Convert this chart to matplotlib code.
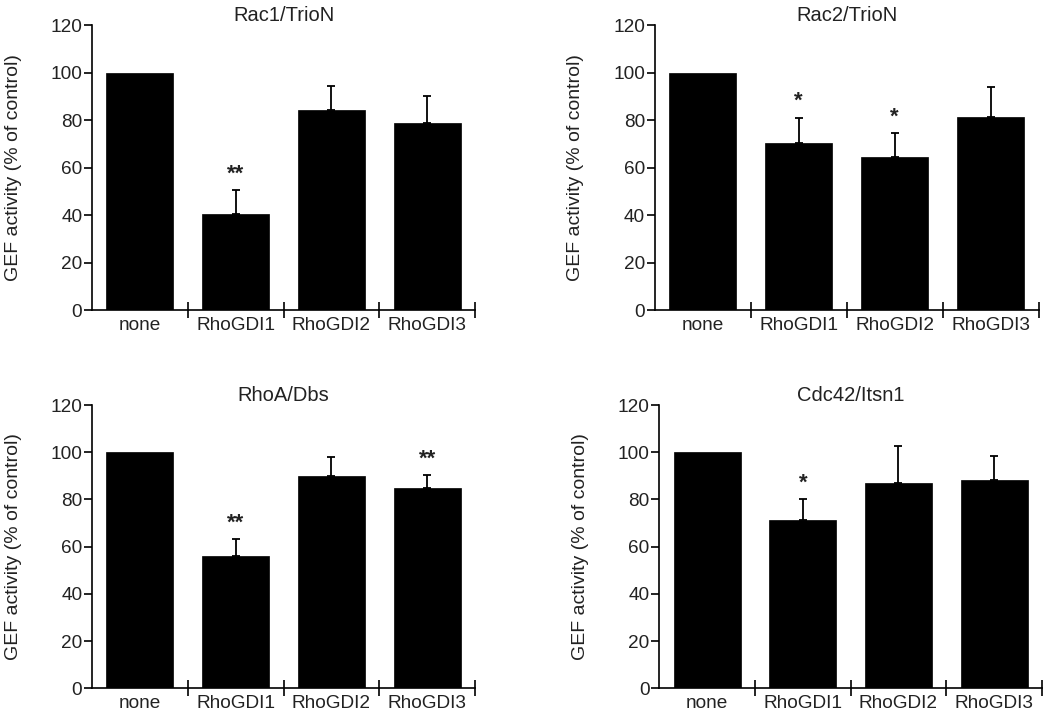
import numpy as np
import matplotlib
matplotlib.use("Agg")
import matplotlib.pyplot as plt
from matplotlib.ticker import FixedLocator

plt.rcParams['font.family'] = ['Liberation Sans', 'DejaVu Sans']

categories = ["none", "RhoGDI1", "RhoGDI2", "RhoGDI3"]

titles = ["Rac1/TrioN", "Rac2/TrioN", "RhoA/Dbs", "Cdc42/Itsn1"]

# mean activity and upper error (SD)
rac1_mean = [100, 40.5, 84.3, 78.7]
rac1_err = [0, 9.9, 10.1, 11.5]
rac2_mean = [100, 70.2, 64.4, 81.3]
rac2_err = [0, 10.7, 10.1, 12.7]
rhoa_mean = [100, 56.2, 90.0, 85.0]
rhoa_err = [0, 7.1, 8.0, 5.4]
cdc42_mean = [100, 71.3, 87.1, 88.2]
cdc42_err = [0, 8.7, 15.7, 10.1]

rac1_sig = ["", "**", "", ""]
rac2_sig = ["", "*", "*", ""]
rhoa_sig = ["", "**", "", "**"]
cdc42_sig = ["", "*", "", ""]

panels = [
    (titles[0], rac1_mean, rac1_err, rac1_sig),
    (titles[1], rac2_mean, rac2_err, rac2_sig),
    (titles[2], rhoa_mean, rhoa_err, rhoa_sig),
    (titles[3], cdc42_mean, cdc42_err, cdc42_sig),
]

# axes rectangles in figure fractions (left, bottom, width, height)
rects = [
    (0.0879, 0.5688, 0.3658, 0.3964),
    (0.6253, 0.5688, 0.3668, 0.3964),
    (0.0879, 0.0427, 0.3658, 0.3940),
    (0.6297, 0.0427, 0.3655, 0.3940),
]

text_col = "#222222"
fig = plt.figure(figsize=(10.47, 7.19), dpi=100)

for (title, means, errs, sig), rect in zip(panels, rects):
    ax = fig.add_axes(rect)
    x = np.arange(len(categories))
    ax.bar(x, means, width=0.7, color="black", edgecolor="black", linewidth=0.5)

    # upward-only error bars, none for the control
    xe = x[1:]
    ye = np.array(means[1:])
    ee = np.array(errs[1:])
    ax.errorbar(xe, ye, yerr=[np.zeros_like(ee), ee], fmt="none",
                ecolor="black", elinewidth=1.3, capsize=3, capthick=1.3)

    for xi, m, e, s in zip(x, means, errs, sig):
        if s:
            ax.text(xi, m + e + 4.5, s, ha="center", va="baseline",
                    fontsize=16, fontweight="bold", color=text_col)

    ax.set_xlim(-0.5, 3.5)
    ax.set_ylim(0, 120)
    ax.set_yticks([0, 20, 40, 60, 80, 100, 120])

    ax.set_xticks(x)
    ax.set_xticklabels(categories)
    ax.xaxis.set_minor_locator(FixedLocator([0.5, 1.5, 2.5, 3.5]))
    ax.tick_params(axis="x", which="major", length=0, pad=5,
                   labelsize=13.7, labelcolor=text_col)
    ax.tick_params(axis="x", which="minor", direction="inout", length=12,
                   width=1.2, color="black")
    ax.tick_params(axis="y", direction="out", length=6, width=1.2, pad=1,
                   labelsize=13.7, labelcolor=text_col)

    for side in ["top", "right"]:
        ax.spines[side].set_visible(False)
    for side in ["left", "bottom"]:
        ax.spines[side].set_linewidth(1.2)

    ax.set_ylabel("GEF activity (% of control)", fontsize=14, color=text_col)
    ax.yaxis.set_label_coords(-0.183, 0.5)
    ax.set_title(title, fontsize=14.5, color=text_col, pad=0)

fig.savefig("out.png", dpi=100)
